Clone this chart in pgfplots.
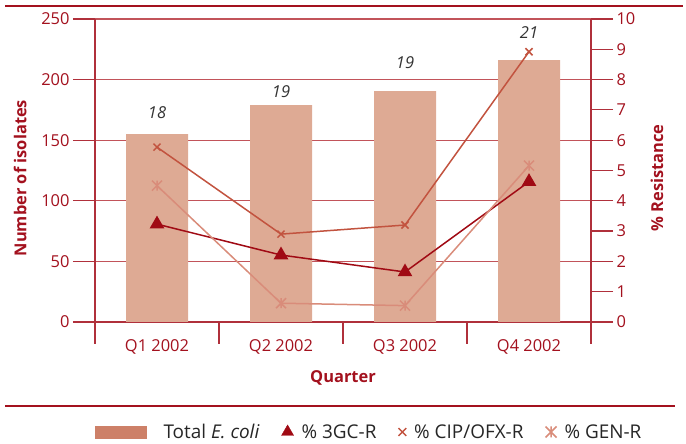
\documentclass[border=0pt]{standalone}
\usepackage{pgfplots}
\pgfplotsset{compat=1.18}
\usepackage{fontspec}
\setmainfont{Open Sans}
\definecolor{dred}{HTML}{A3111E}
\definecolor{gridc}{HTML}{C2545A}
\definecolor{axc}{HTML}{B0303B}
\definecolor{barc}{HTML}{DEAA94}
\definecolor{barleg}{HTML}{CD8068}
\definecolor{l3gc}{HTML}{A00A14}
\definecolor{lcip}{HTML}{C2533F}
\definecolor{lgen}{HTML}{D98C7A}
\newcommand{\fs}{\fontsize{16.5}{19}\selectfont}
\newcommand{\fl}{\fontsize{19}{22}\selectfont}
\pgfdeclareplotmark{xbar}{%
  \pgfpathmoveto{\pgfqpoint{-\pgfplotmarksize}{-\pgfplotmarksize}}%
  \pgfpathlineto{\pgfqpoint{\pgfplotmarksize}{\pgfplotmarksize}}%
  \pgfpathmoveto{\pgfqpoint{-\pgfplotmarksize}{\pgfplotmarksize}}%
  \pgfpathlineto{\pgfqpoint{\pgfplotmarksize}{-\pgfplotmarksize}}%
  \pgfpathmoveto{\pgfqpoint{0pt}{-\pgfplotmarksize}}%
  \pgfpathlineto{\pgfqpoint{0pt}{\pgfplotmarksize}}%
  \pgfusepathqstroke}
\begin{document}
\begin{tikzpicture}[x=1bp,y=1bp]
\useasboundingbox (0,0) rectangle (686,444);
\draw[dred, line width=2.2bp] (5,438) -- (683,438);
\draw[dred, line width=2.2bp] (5,38) -- (675,38);
\pgfplotsset{
 common/.style={
  scale only axis, width=496bp, height=303bp,
  at={(95bp,122bp)}, anchor=south west,
  xmin=0, xmax=4,
  tick align=outside, major tick length=22bp,
  tick style={axc, line width=1.2bp},
  axis line style={-, axc, line width=1.2bp},
  ticklabel style={font=\fs, text=dred},
  label style={font=\fs\bfseries, text=dred},
  /pgf/number format/assume math mode=true,
 }}
\begin{axis}[common,
  axis y line*=left, axis x line*=bottom,
  ymin=0, ymax=250, ytick={0,50,...,250},
  xtick={0,1,2,3,4}, xticklabels={Q1 2002,Q2 2002,Q3 2002,Q4 2002},
  x tick label as interval,
  xticklabel style={yshift=8bp},
  ymajorgrids, grid style={gridc, line width=1.2bp},
  ylabel={Number of isolates}, xlabel={Quarter},
  ylabel style={at={(axis description cs:-0.151,0.475)}, anchor=center},
  xlabel style={at={(axis description cs:0.5,-0.185)}, anchor=center},
]
\addplot[ybar, bar width=62bp, fill=barc, draw=none] coordinates {(0.5,155) (1.5,179) (2.5,190.5) (3.5,216)};
\node[font=\fs\itshape, text=black!80] at (axis cs:0.5,173) {18};
\node[font=\fs\itshape, text=black!80] at (axis cs:1.5,190) {19};
\node[font=\fs\itshape, text=black!80] at (axis cs:2.5,214) {19};
\node[font=\fs\itshape, text=black!80] at (axis cs:3.5,238.5) {21};
\end{axis}
\begin{axis}[common,
  axis y line*=right, axis x line=none,
  ymin=0, ymax=10, ytick={0,1,...,10},
  ylabel={\% Resistance},
  ylabel style={at={(axis description cs:1.133,0.475)}, anchor=center, rotate=0},
  legend style={at={(axis description cs:0.553,-0.363)}, anchor=center, draw=none, fill=none,
    legend columns=-1, font=\fl, text=black!85,
    /tikz/every odd column/.append style={column sep=6bp},
    /tikz/every even column/.append style={column sep=20bp}},
]
\addplot[l3gc, line width=1.5bp, mark=triangle*, mark size=7bp, mark options={solid}, forget plot]
  coordinates {(0.5,3.23) (1.5,2.21) (2.5,1.65) (3.5,4.63)};
\addplot[lcip, line width=1.5bp, mark=x, mark size=5bp, mark options={solid}, forget plot]
  coordinates {(0.5,5.77) (1.5,2.90) (2.5,3.20) (3.5,8.92)};
\addplot[lgen, line width=1.5bp, mark=xbar, mark size=5bp, mark options={solid}, forget plot]
  coordinates {(0.5,4.50) (1.5,0.62) (2.5,0.54) (3.5,5.16)};
\addlegendimage{legend image code/.code={\fill[barleg] (0bp,-6bp) rectangle (51bp,6bp); \path (60bp,0);}}
\addlegendentry{Total \textit{E. coli}}
\addlegendimage{only marks, mark=triangle*, mark size=7bp, l3gc}
\addlegendentry{\% 3GC-R}
\addlegendimage{only marks, mark=x, mark size=5.5bp, lcip, line width=1.5bp}
\addlegendentry{\% CIP/OFX-R}
\addlegendimage{only marks, mark=xbar, mark size=5.5bp, lgen, line width=1.5bp}
\addlegendentry{\% GEN-R}
\end{axis}
\end{tikzpicture}
\end{document}
